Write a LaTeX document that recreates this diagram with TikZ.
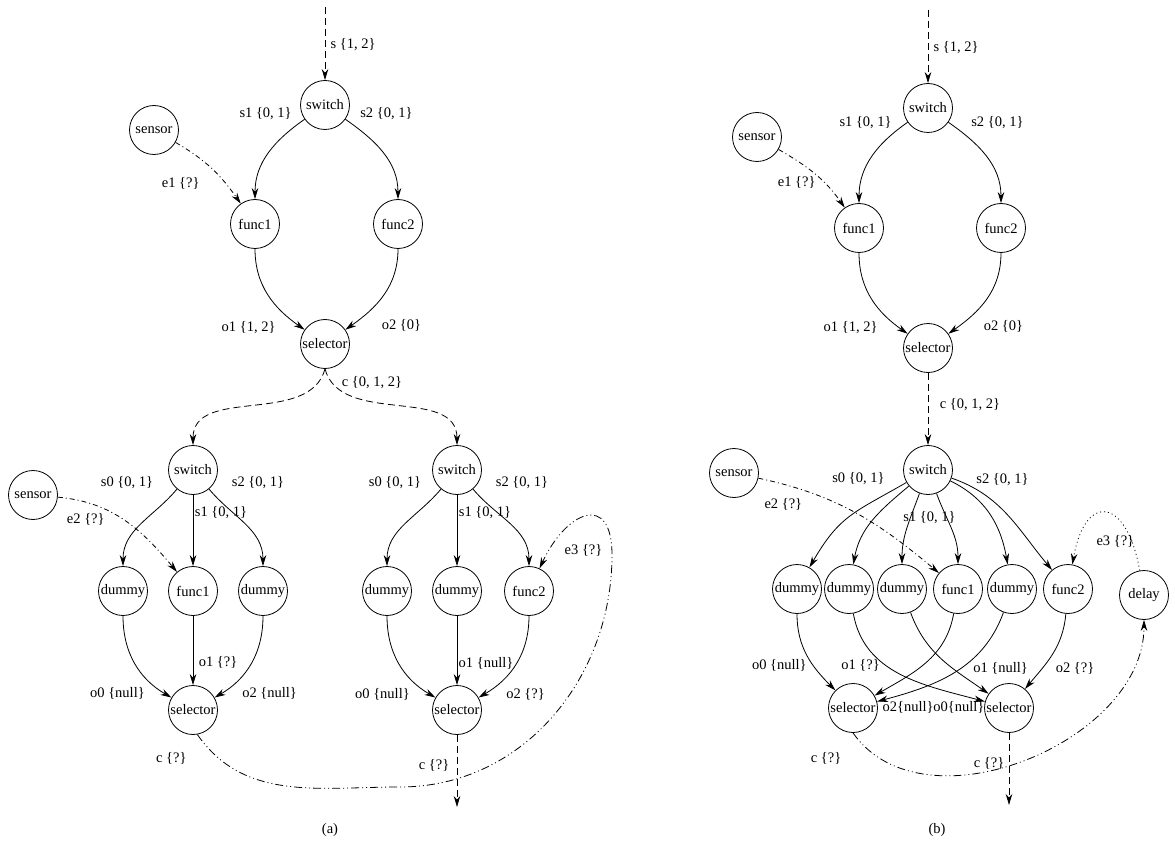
\documentclass[tikz,border=0pt]{standalone}
\usepackage{fontspec}
\setmainfont{Liberation Serif}
\usepackage{tikz}
\usetikzlibrary{arrows.meta,positioning}

\begin{document}
\begin{tikzpicture}[
    x=1pt, y=1pt,
    font=\fontsize{14.5pt}{17pt}\selectfont,
    on grid,
    proc/.style={draw, circle, line width=0.8pt, minimum size=49pt, inner sep=0pt},
    lbl/.style={inner sep=0pt},
    arr/.style={-{Stealth[length=11pt, width=6.5pt]}, line width=0.8pt},
    sig/.style={arr, dash pattern=on 7pt off 4pt},
    evt/.style={arr, dash pattern=on 5pt off 3pt on 1pt off 3pt},
    fbk/.style={arr, dash pattern=on 8pt off 3pt on 1pt off 3pt on 1pt off 3pt},
    dly/.style={arr, dash pattern=on 1pt off 3pt}
]
\useasboundingbox (0,0) rectangle (1175,-842);

% (a)
\node[proc] (a-sw) at (325,-105) {switch};
\coordinate[above=98pt of a-sw] (a-in);
\node[proc, below left=119pt and 70pt of a-sw] (a-f1) {func1};
\node[proc, below right=119pt and 73pt of a-sw] (a-f2) {func2};
\node[proc, below left=25pt and 171pt of a-sw] (a-sen) {sensor};
\node[proc, below=239pt of a-sw] (a-sel) {selector};

\node[proc, below left=126pt and 132pt of a-sel] (al-sw) {switch};
\node[proc, below=121pt of al-sw] (al-f1) {func1};
\node[proc, left=70pt of al-f1] (al-d0) {dummy};
\node[proc, right=70pt of al-f1] (al-d2) {dummy};
\node[proc, below left=25pt and 160pt of al-sw] (al-sen) {sensor};
\node[proc, below=119pt of al-f1] (al-sel) {selector};

\node[proc, below right=126pt and 132pt of a-sel] (ar-sw) {switch};
\node[proc, below=121pt of ar-sw] (ar-d1) {dummy};
\node[proc, left=70pt of ar-d1] (ar-d0) {dummy};
\node[proc, right=72pt of ar-d1] (ar-f2) {func2};
\node[proc, below=119pt of ar-d1] (ar-sel) {selector};
\coordinate[below=97pt of ar-sel] (ar-out);
\coordinate (a-via1) at (400,-787);
\coordinate (a-via2) at (612,-555);

\draw[sig] (a-in) -- node[lbl, pos=.5, xshift=28pt, yshift=-1pt] {s \{1, 2\}} (a-sw);
\draw[arr] (a-sw) to[out=215, in=90] node[lbl, pos=0, xshift=-39pt, yshift=6pt] {s1 \{0, 1\}} (a-f1);
\draw[arr] (a-sw) to[out=-35, in=90] node[lbl, pos=0, xshift=41pt, yshift=6pt] {s2 \{0, 1\}} (a-f2);
\draw[evt] (a-sen) to[out=-30, in=125] node[lbl, pos=1, xshift=-60pt, yshift=20pt] {e1 \{?\}} (a-f1);
\draw[arr] (a-f1) to[out=-90, in=145] node[lbl, pos=1, xshift=-56pt, yshift=2pt] {o1 \{1, 2\}} (a-sel);
\draw[arr] (a-f2) to[out=-90, in=35] node[lbl, pos=1, xshift=56pt, yshift=4pt] {o2 \{0\}} (a-sel);
\draw[sig] (a-sel.south) to[out=-105, in=90] (al-sw);
\draw[sig] (a-sel.south) to[out=-75, in=90] node[lbl, pos=0, xshift=47pt, yshift=-13.5pt] {c \{0, 1, 2\}} (ar-sw);

\draw[arr] (al-sw) to[out=230, in=90] node[lbl, pos=0, xshift=-50pt, yshift=6pt] {s0 \{0, 1\}} (al-d0);
\draw[arr] (al-sw) -- node[lbl, pos=.5, xshift=28pt, yshift=17.5pt] {s1 \{0, 1\}} (al-f1);
\draw[arr] (al-sw) to[out=-50, in=90] node[lbl, pos=0, xshift=49pt, yshift=6pt] {s2 \{0, 1\}} (al-d2);
\draw[evt] (al-sen) to[out=-5, in=130] node[lbl, pos=0, xshift=28pt, yshift=-22pt] {e2 \{?\}} (al-f1);
\draw[arr] (al-d0) to[out=-90, in=150] node[lbl, pos=1, xshift=-54pt, yshift=4pt] {o0 \{null\}} (al-sel);
\draw[arr] (al-f1) -- node[lbl, pos=.5, xshift=25pt, yshift=-11.5pt] {o1 \{?\}} (al-sel);
\draw[arr] (al-d2) to[out=-90, in=30] node[lbl, pos=1, xshift=55pt, yshift=4pt] {o2 \{null\}} (al-sel);
\draw[fbk] (al-sel.-80) to[out=-55, in=180] node[lbl, pos=0, xshift=-26pt, yshift=-24pt] {c \{?\}} (a-via1)
    to[out=0, in=-90] (a-via2)
    to[out=90, in=65, looseness=2.2] node[lbl, pos=1, xshift=44pt, yshift=18pt] {e3 \{?\}} (ar-f2);

\draw[arr] (ar-sw) to[out=230, in=90] node[lbl, pos=0, xshift=-46pt, yshift=6pt] {s0 \{0, 1\}} (ar-d0);
\draw[arr] (ar-sw) -- node[lbl, pos=.5, xshift=28pt, yshift=17.5pt] {s1 \{0, 1\}} (ar-d1);
\draw[arr] (ar-sw) to[out=-50, in=90] node[lbl, pos=0, xshift=49pt, yshift=6pt] {s2 \{0, 1\}} (ar-f2);
\draw[arr] (ar-d0) to[out=-90, in=150] node[lbl, pos=1, xshift=-53pt, yshift=3pt] {o0 \{null\}} (ar-sel);
\draw[arr] (ar-d1) -- node[lbl, pos=.5, xshift=29pt, yshift=-12.5pt] {o1 \{null\}} (ar-sel);
\draw[arr] (ar-f2) to[out=-90, in=30] node[lbl, pos=1, xshift=47pt, yshift=3pt] {o2 \{?\}} (ar-sel);
\draw[sig] (ar-sel) -- node[lbl, pos=.5, xshift=-23pt, yshift=6pt] {c \{?\}} (ar-out);

\node (cap-a) at (330,-830) {(a)};

% (b)
\node[proc] (b-sw) at (928,-108) {switch};
\coordinate[above=98pt of b-sw] (b-in);
\node[proc, below left=120pt and 69pt of b-sw] (b-f1) {func1};
\node[proc, below right=120pt and 73pt of b-sw] (b-f2) {func2};
\node[proc, below left=29pt and 171pt of b-sw] (b-sen) {sensor};
\node[proc, below=240pt of b-sw] (b-sel) {selector};

\node[proc, below=122pt of b-sel] (bb-sw) {switch};
\node[proc, below left=3pt and 194pt of bb-sw] (bb-sen) {sensor};
\node[proc, below right=119pt and 30pt of bb-sw] (bb-f1) {func1};
\node[proc, left=56pt of bb-f1] (bb-d2) {dummy};
\node[proc, left=53pt of bb-d2] (bb-d1) {dummy};
\node[proc, left=52pt of bb-d1] (bb-d0) {dummy};
\node[proc, right=54pt of bb-f1] (bb-d3) {dummy};
\node[proc, right=56pt of bb-d3] (bb-f2) {func2};
\node[proc, below right=6pt and 76pt of bb-f2] (bb-dly) {delay};
\node[proc, below left=119pt and 105pt of bb-f1] (bb-sell) {selector};
\node[proc, below right=119pt and 51pt of bb-f1] (bb-selr) {selector};
\coordinate[below=97pt of bb-selr] (bb-out);

\draw[sig] (b-in) -- node[lbl, pos=.5, xshift=28pt, yshift=-1pt] {s \{1, 2\}} (b-sw);
\draw[arr] (b-sw) to[out=215, in=90] node[lbl, pos=0, xshift=-42pt] {s1 \{0, 1\}} (b-f1);
\draw[arr] (b-sw) to[out=-35, in=90] node[lbl, pos=0, xshift=49pt] {s2 \{0, 1\}} (b-f2);
\draw[evt] (b-sen) to[out=-30, in=125] node[lbl, pos=1, xshift=-48pt, yshift=25pt] {e1 \{?\}} (b-f1);
\draw[arr] (b-f1) to[out=-90, in=145] node[lbl, pos=1, xshift=-57pt, yshift=6pt] {o1 \{1, 2\}} (b-sel);
\draw[arr] (b-f2) to[out=-90, in=35] node[lbl, pos=1, xshift=55pt, yshift=7pt] {o2 \{0\}} (b-sel);
\draw[sig] (b-sel) -- node[lbl, pos=.5, xshift=42pt, yshift=4pt] {c \{0, 1, 2\}} (bb-sw);

\draw[arr] (bb-sw) to[out=210, in=60, looseness=1.2] node[lbl, pos=0, xshift=-48pt, yshift=4pt] {s0 \{0, 1\}} (bb-d0);
\draw[arr] (bb-sw) to[out=220, in=80] (bb-d1);
\draw[arr] (bb-sw) to[out=250, in=90] node[lbl, pos=0, xshift=10pt, yshift=-24pt] {s1 \{0, 1\}} (bb-d2);
\draw[arr] (bb-sw) to[out=-70, in=90] (bb-f1);
\draw[arr] (bb-sw) to[out=-26, in=100] (bb-d3);
\draw[arr] (bb-sw) to[out=-19, in=130] node[lbl, pos=0, xshift=51pt, yshift=-1pt] {s2 \{0, 1\}} (bb-f2);
\draw[evt] (bb-sen) to[out=-12, in=140] node[lbl, pos=0, xshift=25pt, yshift=-26pt] {e2 \{?\}} (bb-f1);
\draw[dly] (bb-dly) to[out=100, in=80, looseness=2.8] node[lbl, pos=1, xshift=43pt, yshift=23pt] {e3 \{?\}} (bb-f2);

\draw[arr] (bb-d0) to[out=-90, in=135] node[lbl, pos=1, xshift=-56pt, yshift=25pt] {o0 \{null\}} (bb-sell);
\draw[arr] (bb-f1) to[out=-100, in=30] node[lbl, pos=1, xshift=-14pt, yshift=30pt] {o1 \{?\}} (bb-sell);
\draw[arr] (bb-d3) to[out=-110, in=15] node[lbl, pos=1, xshift=31pt, yshift=-6pt] {o2\{null\}} (bb-sell);
\draw[arr] (bb-d1) to[out=-80, in=165] node[lbl, pos=1, xshift=-26pt, yshift=-6pt] {o0\{null\}} (bb-selr);
\draw[arr] (bb-d2) to[out=-70, in=145] node[lbl, pos=1, xshift=12pt, yshift=25pt] {o1 \{null\}} (bb-selr);
\draw[arr] (bb-f2) to[out=-95, in=50] node[lbl, pos=1, xshift=50pt, yshift=20pt] {o2 \{?\}} (bb-selr);
\draw[fbk] (bb-sell.south) to[out=-55, in=-90] node[lbl, pos=0, xshift=-27pt, yshift=-25.5pt] {c \{?\}} (bb-dly);
\draw[sig] (bb-selr) -- node[lbl, pos=.5, xshift=-20pt, yshift=6pt] {c \{?\}} (bb-out);

\node (cap-b) at (937,-830) {(b)};
\end{tikzpicture}
\end{document}
